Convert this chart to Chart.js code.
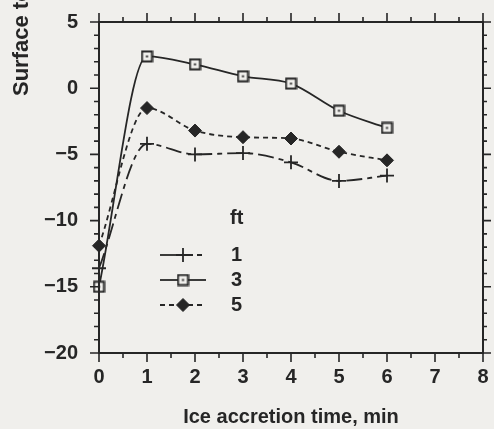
<!DOCTYPE html>
<html>
<head>
<meta charset="utf-8">
<script src="https://cdn.jsdelivr.net/npm/chart.js@4/dist/chart.umd.min.js"></script>
<style>
  html, body { margin: 0; padding: 0; background: #f0efec; }
  canvas { display: block; }
</style>
</head>
<body>
<canvas id="chart" width="494" height="429"></canvas>
<script>
// data
const times = [0, 1, 2, 3, 4, 5, 6];
const temp1ft = [-13.6, -4.2, -5.0, -4.9, -5.6, -7.0, -6.6];
const temp3ft = [-15.0, 2.4, 1.8, 0.9, 0.35, -1.7, -3.0];
const temp5ft = [-11.9, -1.5, -3.2, -3.7, -3.8, -4.8, -5.45];
const seriesLabels = ['1', '3', '5'];
const legendTitle = 'ft';
const xTickValues = [0, 1, 2, 3, 4, 5, 6, 7, 8];
const yTickValues = [5, 0, -5, -10, -15, -20];
const xTitle = 'Ice accretion time, min';
const yTitle = 'Surface temperature, °C';

const ink = '#262626';
const bg = '#f0efec';
const font = { family: '"Liberation Sans", Arial, sans-serif', size: 20, weight: 'bold' };
const fontStr = 'bold 20px "Liberation Sans", Arial, sans-serif';

// open square with a dot in the middle
function squareDot() {
  const c = document.createElement('canvas');
  c.width = c.height = 13;
  const g = c.getContext('2d');
  g.fillStyle = bg;
  g.fillRect(1, 1, 11, 11);
  g.strokeStyle = ink;
  g.lineWidth = 2;
  g.strokeRect(1.5, 1.5, 10, 10);
  g.fillStyle = ink;
  g.fillRect(5.5, 5.5, 2, 2);
  return c;
}

const toXY = vals => vals.map((v, i) => ({ x: times[i], y: v }));

const datasets = [
  { label: seriesLabels[0], data: toXY(temp1ft), borderDash: [16, 5, 5, 5],
    pointStyle: 'cross', pointRadius: 7, pointBorderWidth: 1.8 },
  { label: seriesLabels[1], data: toXY(temp3ft), borderDash: [],
    pointStyle: squareDot(), pointRadius: 7 },
  { label: seriesLabels[2], data: toXY(temp5ft), borderDash: [5, 4],
    pointStyle: 'rectRot', pointRadius: 6.5, pointBorderWidth: 1 }
].map(d => Object.assign({
  borderColor: ink, backgroundColor: ink, pointBackgroundColor: ink,
  pointBorderColor: ink, borderWidth: 1.8, cubicInterpolationMode: 'monotone',
  clip: false
}, d));

// legend sample: pattern left and right of the marker
const legendLeftDash = [[], [], [5, 4]];
const legendRightDash = [[5, 4], [], [5, 4]];

const framePlugin = {
  id: 'frame',
  afterDraw(chart) {
    const { ctx, chartArea: a, scales: { x, y } } = chart;
    ctx.save();
    ctx.strokeStyle = ink;
    ctx.lineWidth = 2;
    ctx.strokeRect(a.left, a.top, a.right - a.left, a.bottom - a.top);

    ctx.lineWidth = 1.6;
    ctx.beginPath();
    for (let v = -20; v <= 5; v++) {
      const py = y.getPixelForValue(v);
      const major = v % 5 === 0;
      ctx.moveTo(a.left - (major ? 9 : 5), py);
      ctx.lineTo(a.left, py);
      ctx.moveTo(a.right, py);
      ctx.lineTo(a.right + (major ? 8 : 4), py);
    }
    for (let v = 0; v <= 8; v += 0.5) {
      const px = x.getPixelForValue(v);
      const major = v % 1 === 0;
      ctx.moveTo(px, a.bottom);
      ctx.lineTo(px, a.bottom + (major ? 9 : 5));
      ctx.moveTo(px, a.top);
      ctx.lineTo(px, a.top - (major ? 9 : 5));
    }
    ctx.stroke();

    // y title, cut off by the top edge like the scan
    ctx.fillStyle = ink;
    ctx.font = 'bold 22px "Liberation Sans", Arial, sans-serif';
    ctx.translate(22, 96);
    ctx.rotate(-Math.PI / 2);
    ctx.textAlign = 'left';
    ctx.textBaseline = 'middle';
    ctx.fillText(yTitle, 0, 0);
    ctx.restore();

    // legend
    ctx.save();
    ctx.font = fontStr;
    ctx.fillStyle = ink;
    ctx.textBaseline = 'middle';
    ctx.fillText(legendTitle, 230, 218);
    chart.data.datasets.forEach((ds, i) => {
      const ly = 255 + i * 25;
      ctx.strokeStyle = ink;
      ctx.lineWidth = ds.borderWidth;
      ctx.setLineDash(legendLeftDash[i]);
      ctx.beginPath();
      ctx.moveTo(160, ly);
      ctx.lineTo(183, ly);
      ctx.stroke();
      ctx.setLineDash(legendRightDash[i]);
      ctx.beginPath();
      ctx.moveTo(188, ly);
      ctx.lineTo(206, ly);
      ctx.stroke();
      ctx.setLineDash([]);
      ctx.lineWidth = ds.pointBorderWidth || 1;
      Chart.helpers.drawPoint(ctx, {
        pointStyle: ds.pointStyle, radius: ds.pointRadius, rotation: 0,
        borderWidth: ds.pointBorderWidth || 1
      }, 183, ly);
      ctx.fillStyle = ink;
      ctx.fillText(ds.label, 231, ly);
    });
    ctx.restore();
  }
};

// invisible tick marks give the label gap without widening the layout padding
const hiddenGrid = len => ({
  display: true, drawOnChartArea: false, drawTicks: true,
  tickLength: len, color: 'rgba(0,0,0,0)'
});

new Chart(document.getElementById('chart'), {
  type: 'line',
  data: { datasets },
  options: {
    responsive: false,
    animation: false,
    devicePixelRatio: 1,
    layout: { padding: { top: 22, right: 11, left: 0, bottom: 0 } },
    plugins: { legend: { display: false }, tooltip: { enabled: false } },
    scales: {
      x: {
        type: 'linear', min: 0, max: 8,
        afterBuildTicks: s => { s.ticks = xTickValues.map(v => ({ value: v })); },
        afterFit: s => { s.height = 76; },
        grid: hiddenGrid(12),
        border: { display: false },
        ticks: { padding: 0, font, color: ink, maxRotation: 0, autoSkip: false },
        title: { display: true, text: xTitle, font, color: ink, padding: 0 }
      },
      y: {
        type: 'linear', min: -20, max: 5,
        afterBuildTicks: s => { s.ticks = yTickValues.map(v => ({ value: v })); },
        afterFit: s => { s.width = 99; },
        grid: hiddenGrid(21),
        border: { display: false },
        ticks: { padding: 0, font, color: ink, autoSkip: false,
                 callback: v => String(v).replace('-', '\u2212') }
      }
    }
  },
  plugins: [framePlugin]
});
</script>
</body>
</html>
